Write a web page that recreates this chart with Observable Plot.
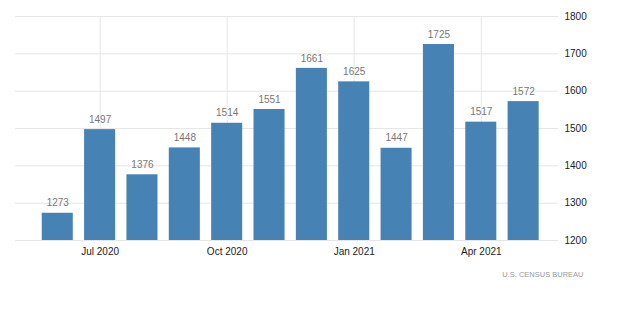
<!DOCTYPE html>
<html>
<head>
<meta charset="utf-8">
<script src="https://cdn.jsdelivr.net/npm/d3@7"></script>
<script src="https://cdn.jsdelivr.net/npm/@observablehq/plot@0.6"></script>
<style>
  html, body { margin: 0; padding: 0; background: #fff; }
  #chart { width: 620px; height: 331px; }
</style>
</head>
<body>
<div id="chart"></div>
<script>
const months = ["Jun 2020","Jul 2020","Aug 2020","Sep 2020","Oct 2020","Nov 2020","Dec 2020","Jan 2021","Feb 2021","Mar 2021","Apr 2021","May 2021"];
const values = [1273, 1497, 1376, 1448, 1514, 1551, 1661, 1625, 1447, 1725, 1517, 1572];
const xTicks = ["Jul 2020", "Oct 2020", "Jan 2021", "Apr 2021"];
const yTicks = [1200, 1300, 1400, 1500, 1600, 1700, 1800];
const source = "U.S. CENSUS BUREAU";

const chart = Plot.plot({
  width: 620,
  height: 290,
  marginTop: 16,
  marginBottom: 50,
  marginLeft: 15,
  marginRight: 62,
  style: { fontFamily: "'Liberation Sans', Arial, sans-serif", background: "#fff" },
  x: { type: "band", domain: months, round: false, paddingInner: 0.267, paddingOuter: 0.277, insetLeft: 15, insetRight: 7.6 },
  y: { domain: [yTicks[0], yTicks[yTicks.length - 1]] },
  marks: [
    Plot.ruleY(yTicks, { stroke: "#e6e6e6" }),
    Plot.ruleX(xTicks, { x: d => d, stroke: "#e6e6e6" }),
    Plot.barY(values, { x: (d, i) => months[i], y1: yTicks[0], y2: d => d, fill: "#4682b4" }),
    Plot.text(values, { x: (d, i) => months[i], y: d => d, dy: -10, text: d => String(d), fill: "#777", fontSize: 10 }),
    Plot.axisX({ ticks: xTicks, tickSize: 0, tickPadding: 7, fontSize: 10, label: null, color: "#222" }),
    Plot.axisY({ anchor: "right", ticks: yTicks, tickSize: 0, tickPadding: 6, fontSize: 10, label: null, color: "#222", tickFormat: d => String(d) }),
    Plot.text([source], { frameAnchor: "bottom-right", text: d => d, dx: 25, dy: 36, textAnchor: "end", fontSize: 7.5, fill: "#999", style: "letter-spacing: 0.8px" })
  ]
});
document.getElementById("chart").appendChild(chart);
</script>
</body>
</html>
